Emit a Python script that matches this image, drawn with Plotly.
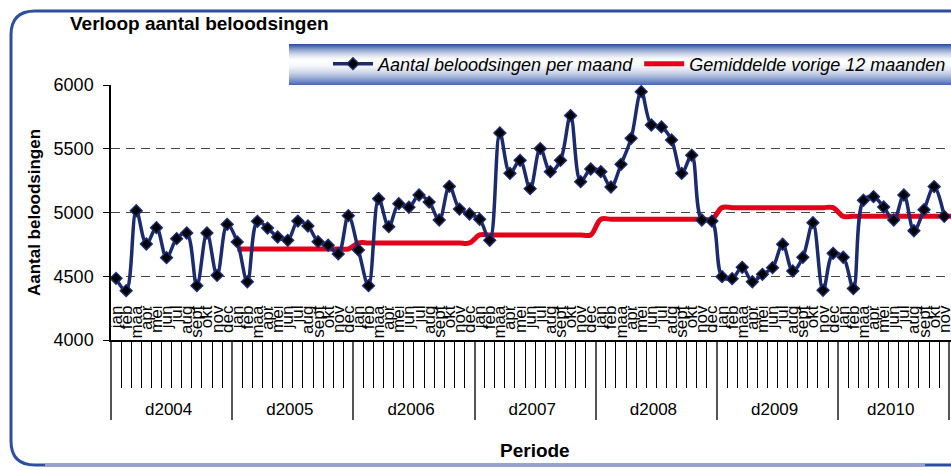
import plotly.graph_objects as go

# maanden en jaren voor de x-as
maanden = ["jan", "feb", "maa", "apr", "mei", "jun", "jul", "aug", "sept", "okt", "nov", "dec"]
jaren = ["d2004", "d2005", "d2006", "d2007", "d2008", "d2009", "d2010"]

per_maand_2004 = [4484, 4387, 5014, 4753, 4881, 4646, 4795, 4839, 4426, 4839, 4507, 4907]
per_maand_2005 = [4769, 4457, 4931, 4878, 4808, 4782, 4933, 4894, 4771, 4743, 4675, 4975]
per_maand_2006 = [4706, 4426, 5108, 4889, 5069, 5041, 5137, 5082, 4941, 5205, 5027, 4988]
per_maand_2007 = [4947, 4782, 5624, 5307, 5409, 5187, 5501, 5320, 5409, 5760, 5242, 5341]
per_maand_2008 = [5320, 5200, 5378, 5582, 5948, 5686, 5671, 5569, 5307, 5449, 4941, 4933]
per_maand_2009 = [4497, 4481, 4570, 4457, 4515, 4567, 4751, 4541, 4649, 4920, 4390, 4680]
per_maand_2010 = [4649, 4403, 5096, 5124, 5043, 4941, 5137, 4857, 5022, 5203, 4970, None]

# gemiddelde vorige 12 maanden, per jaar
gemiddelde = [None, 4714, 4761, 4824, 4947, 5038, 4970]

per_maand = (per_maand_2004 + per_maand_2005 + per_maand_2006 + per_maand_2007
             + per_maand_2008 + per_maand_2009 + per_maand_2010)
x_jaar = [j for j in jaren for m in maanden]
x_maand = [m for j in jaren for m in maanden]
gem = [g for g in gemiddelde for m in maanden]

W, H = 951, 470
L, R, T, B = 111, 951, 85, 340


def px(x):
    return (x - L) / (R - L)


def py(y):
    return (B - y) / (B - T)


fig = go.Figure()

fig.add_trace(go.Scatter(
    x=[x_jaar, x_maand], y=gem,
    mode="lines",
    line=dict(color="#E3001B", width=5, shape="spline"),
    name="Gemiddelde vorige 12 maanden",
    legendrank=2,
))
fig.add_trace(go.Scatter(
    x=[x_jaar, x_maand], y=per_maand,
    mode="lines+markers",
    line=dict(color="#1B2B6E", width=3.5, shape="spline"),
    marker=dict(symbol="diamond", size=9, color="black", line=dict(color="#1B2B6E", width=1.5)),
    name="Aantal beloodsingen per maand",
    legendrank=1,
))

shapes = []

# legenda-achtergrond met verloop (blauw - wit - blauw)
top_c = (46, 82, 162)
bot_c = (58, 96, 172)
y0, y1 = 44, 85
for yy in range(y0, y1):
    f = (yy - y0) / (y1 - y0)
    if f < 0.4:
        t = 1 - f / 0.4
        c = tuple(int(255 + (tc - 255) * t ** 1.6) for tc in top_c)
    else:
        t = (f - 0.4) / 0.6
        c = tuple(int(255 + (bc - 255) * t ** 1.8) for bc in bot_c)
    shapes.append(dict(
        type="rect", xref="paper", yref="paper",
        x0=px(289), x1=px(960), y0=py(yy), y1=py(yy + 1),
        fillcolor="rgb(%d,%d,%d)" % c, line=dict(width=0), layer="below",
    ))

# afgeronde kader
r = 24
fx0, fy0, fx1, fy1 = 11, 11, 990, 465
path = (f"M {px(fx1)},{py(fy0)} L {px(fx0 + r)},{py(fy0)} "
        f"Q {px(fx0)},{py(fy0)} {px(fx0)},{py(fy0 + r)} "
        f"L {px(fx0)},{py(fy1 - r)} "
        f"Q {px(fx0)},{py(fy1)} {px(fx0 + r)},{py(fy1)} "
        f"L {px(fx1)},{py(fy1)}")
shapes.append(dict(type="path", xref="paper", yref="paper", path=path,
                   line=dict(color="#2E4EA0", width=3)))
shapes.append(dict(type="line", xref="paper", yref="paper",
                   x0=px(45), x1=px(925), y0=py(fy1), y1=py(fy1),
                   line=dict(color="#97A3CF", width=3)))

fig.update_layout(
    width=W, height=H,
    margin=dict(l=L, r=W - R, t=T, b=H - B),
    paper_bgcolor="white",
    plot_bgcolor="white",
    font=dict(family="Liberation Sans, Arial, sans-serif", size=16, color="black"),
    title=dict(
        text="<b>Verloop aantal beloodsingen</b>",
        xref="container", yref="container",
        x=70 / W, y=1 - 23 / H, xanchor="left", yanchor="middle",
        font=dict(size=19),
    ),
    showlegend=True,
    legend=dict(
        orientation="h",
        xanchor="right", x=1.0,
        yanchor="middle", y=py(64),
        bgcolor="rgba(0,0,0,0)",
        font=dict(size=18, style="italic"),
        itemwidth=40,
        traceorder="normal",
    ),
    xaxis=dict(
        type="multicategory",
        range=[-0.5, 82.67],
        tickmode="linear", tick0=0, dtick=1,
        showline=True, linecolor="black", linewidth=1.5,
        ticks="outside", ticklen=46, tickcolor="black", tickwidth=1,
        ticklabelstandoff=-43,
        tickangle=-90,
        tickfont=dict(size=17),
        showdividers=True, dividercolor="#555555", dividerwidth=1.5,
        showgrid=False,
    ),
    yaxis=dict(
        range=[4000, 6000],
        tickvals=[4000, 4500, 5000, 5500, 6000],
        showline=True, linecolor="black", linewidth=1.5,
        ticks="outside", ticklen=6, tickcolor="black",
        ticklabelstandoff=6,
        tickfont=dict(size=18),
        showgrid=True, gridcolor="#444444", gridwidth=1, griddash="9px,6px",
        zeroline=False,
        title=dict(text="<b>Aantal beloodsingen</b>", font=dict(size=17), standoff=9),
    ),
    shapes=shapes,
    annotations=[dict(
        text="<b>Periode</b>", xref="paper", yref="paper",
        x=px(535), y=py(450), xanchor="center", yanchor="middle",
        showarrow=False, font=dict(size=19),
    )],
)

fig.write_html("out.html", config={"displayModeBar": False},
               post_script="document.body.style.margin='0';")
